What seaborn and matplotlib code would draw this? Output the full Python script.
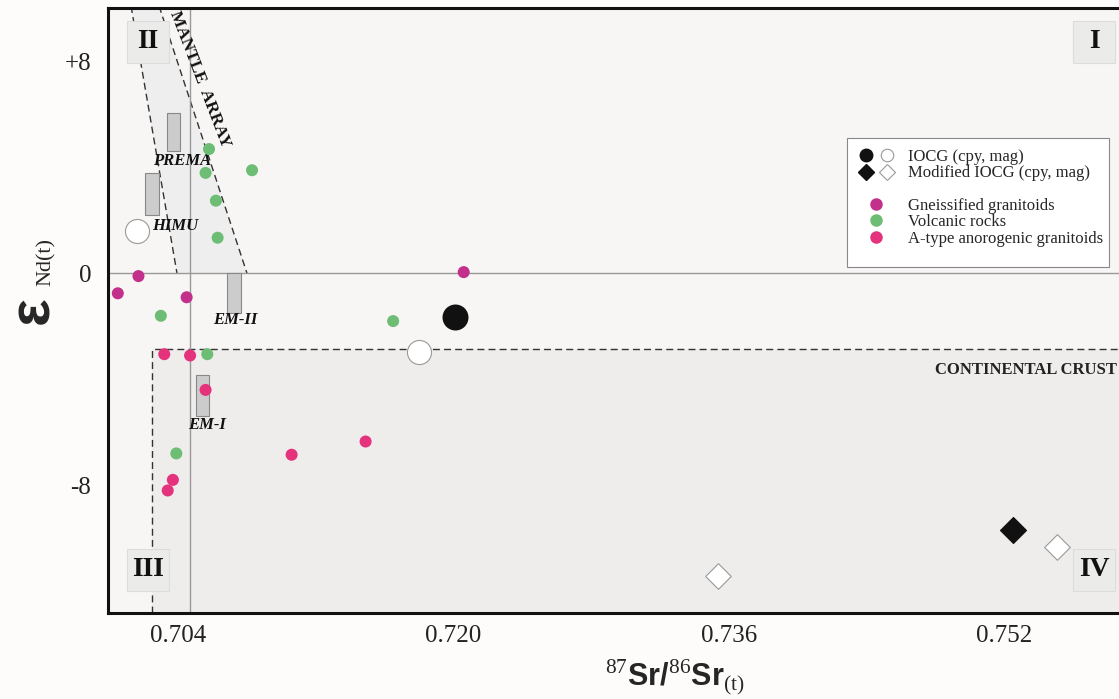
import numpy as np
import pandas as pd
import matplotlib
matplotlib.use("Agg")
import matplotlib.pyplot as plt
import seaborn as sns
from matplotlib.patches import Rectangle, Polygon
from matplotlib.lines import Line2D
from matplotlib.legend_handler import HandlerTuple

# Data

volc_sr = [0.7058, 0.7083, 0.7056, 0.7062, 0.7063, 0.7030, 0.7165, 0.7057, 0.7039]
volc_nd = [4.7, 3.9, 3.8, 2.75, 1.35, -1.6, -1.8, -3.05, -6.8]

gneiss_sr = [0.7005, 0.7017, 0.7045, 0.7206]
gneiss_nd = [-0.75, -0.1, -0.9, 0.05]

atype_sr = [0.7032, 0.7047, 0.7056, 0.7106, 0.7149, 0.7037, 0.7034]
atype_nd = [-3.05, -3.1, -4.4, -6.85, -6.35, -7.8, -8.2]

iocg_cpy_sr = [0.7201]
iocg_cpy_nd = [-1.65]
iocg_mag_sr = [0.7180, 0.7016]
iocg_mag_nd = [-2.95, 1.6]

mod_cpy_sr = [0.7525]
mod_cpy_nd = [-9.7]
mod_mag_sr = [0.7551, 0.7354]
mod_mag_nd = [-10.35, -11.45]

# mantle reservoirs: name, sr min, sr max, nd min, nd max
res_names = ["PREMA", "HIMU", "EM-II", "EM-I"]
res_sr0 = [0.70336, 0.70208, 0.70685, 0.70505]
res_sr1 = [0.70412, 0.70290, 0.70766, 0.70580]
res_nd0 = [4.62, 2.22, -1.5, -5.38]
res_nd1 = [6.05, 3.80, 0.0, -3.83]
res_lab_sr = [0.70423, 0.70383, 0.70731, 0.70569]
res_lab_nd = [4.25, 1.80, -1.77, -5.71]

# mantle array limits (sr at top, sr at nd = 0)
array_left = [(0.70127, 10.1), (0.70394, 0.0)]
array_right = [(0.70290, 10.1), (0.70801, 0.0)]

# bulk earth reference and continental crust corner
bulk_sr = 0.7047
crust_sr = 0.7025
crust_nd = -2.85

x_ticks = [0.704, 0.720, 0.736, 0.752]
x_labels = ["0.704", "0.720", "0.736", "0.752"]
x_minor = [0.712, 0.728, 0.744, 0.756]
y_ticks = [8, 0, -8]
y_labels = ["+8", "0", "-8"]
y_minor = [4, -4, -12]

quad_names = ["I", "II", "III", "IV"]
quad_sr = [0.75723, 0.70226, 0.70226, 0.75723]
quad_nd = [8.76, 8.76, -11.2, -11.2]

# Colours

c_volc = "#6dbd74"
c_gneiss = "#c2308b"
c_atype = "#e4327c"

sns.set_style("white")
plt.rcParams["font.family"] = ["Liberation Serif", "DejaVu Serif"]
plt.rcParams["mathtext.fontset"] = "custom"
plt.rcParams["mathtext.rm"] = "Liberation Serif"
plt.rcParams["mathtext.bf"] = "Liberation Sans:bold"

W, H = 1119, 699
fig = plt.figure(figsize=(11.19, 6.99), dpi=100, facecolor="#fdfcfb")
ax = fig.add_axes([108 / W, 86 / H, 1011 / W, 605 / H])
ax.set_facecolor("#f8f6f5")

xmin, xmax = 0.69993, 0.75868
ymin, ymax = -12.83, 10.03
ax.set_xlim(xmin, xmax)
ax.set_ylim(ymin, ymax)

# Continental crust field

ax.add_patch(Rectangle((crust_sr, ymin), xmax - crust_sr, crust_nd - ymin,
                       facecolor="#efedeb", edgecolor="none", zorder=0))
ax.plot([crust_sr, crust_sr, xmax], [ymin, crust_nd, crust_nd],
        color="#333333", lw=1, ls=(0, (5, 3)), zorder=1)
ax.text(0.75857, -3.65, "CONTINENTAL CRUST", ha="right", va="center",
        fontsize=12, fontweight="bold", color="#222222")

# Mantle array band

band = Polygon([array_left[0], array_right[0], array_right[1], array_left[1]],
               closed=True, facecolor="#efeeee", edgecolor="none", zorder=0)
ax.add_patch(band)
for line in [array_left, array_right]:
    ax.plot([line[0][0], line[1][0]], [line[0][1], line[1][1]],
            color="#333333", lw=1, ls=(0, (5, 3)), zorder=1)
ax.text(0.70528, 7.33, "MANTLE  ARRAY", rotation=-69, ha="center", va="center",
        fontsize=12.5, fontweight="bold", color="#111111", rotation_mode="anchor")

# Reference lines

ax.axvline(bulk_sr, color="#999999", lw=1, zorder=1)
ax.axhline(0, color="#999999", lw=1, zorder=1)

# Mantle reservoirs

for i in range(len(res_names)):
    ax.add_patch(Rectangle((res_sr0[i], res_nd0[i]), res_sr1[i] - res_sr0[i],
                           res_nd1[i] - res_nd0[i], facecolor="#cccccc",
                           edgecolor="#888888", lw=0.8, zorder=2))
    ax.text(res_lab_sr[i], res_lab_nd[i], res_names[i], ha="center", va="center",
            fontsize=12, fontweight="bold", fontstyle="italic", color="#111111",
            zorder=3)

# Quadrant labels

bw = 0.00244
bh = 1.58
for i in range(len(quad_names)):
    ax.add_patch(Rectangle((quad_sr[i] - bw / 2, quad_nd[i] - bh / 2), bw, bh,
                           facecolor="#ebebea", edgecolor="#dcdcdc", lw=0.8,
                           zorder=2))
    ax.text(quad_sr[i], quad_nd[i], quad_names[i], ha="center", va="center",
            fontsize=20, fontweight="bold", color="#111111", zorder=3)

# Sample points

pts = pd.DataFrame({
    "sr": volc_sr + gneiss_sr + atype_sr,
    "nd": volc_nd + gneiss_nd + atype_nd,
    "group": ["Volcanic rocks"] * len(volc_sr)
             + ["Gneissified granitoids"] * len(gneiss_sr)
             + ["A-type anorogenic granitoids"] * len(atype_sr),
})
pal = {"Volcanic rocks": c_volc, "Gneissified granitoids": c_gneiss,
       "A-type anorogenic granitoids": c_atype}
sns.scatterplot(data=pts, x="sr", y="nd", hue="group", palette=pal, s=75,
                edgecolor="none", legend=False, ax=ax, zorder=4)

sns.scatterplot(x=iocg_cpy_sr, y=iocg_cpy_nd, marker="o", s=300, color="#111111",
                edgecolor="#111111", ax=ax, zorder=5)
sns.scatterplot(x=iocg_mag_sr, y=iocg_mag_nd, marker="o", s=300, color="white",
                edgecolor="#999999", linewidth=0.8, ax=ax, zorder=5)
sns.scatterplot(x=mod_cpy_sr, y=mod_cpy_nd, marker="D", s=170, color="#111111",
                edgecolor="#111111", ax=ax, zorder=5)
sns.scatterplot(x=mod_mag_sr, y=mod_mag_nd, marker="D", s=170, color="white",
                edgecolor="#999999", linewidth=0.8, ax=ax, zorder=5)

# Axes style

for side in ["left", "bottom", "top"]:
    ax.spines[side].set_linewidth(2.2)
    ax.spines[side].set_color("#111111")
ax.spines["right"].set_visible(False)

ax.set_xticks(x_ticks)
ax.set_xticklabels(x_labels)
ax.set_xticks(x_minor, minor=True)
ax.set_yticks(y_ticks)
ax.set_yticklabels(y_labels)
ax.set_yticks(y_minor, minor=True)
ax.tick_params(which="major", direction="in", length=10, width=1.5,
               labelsize=18, pad=9, color="#111111", labelcolor="#222222")
ax.tick_params(which="minor", direction="in", length=5, width=1.5,
               color="#111111")
ax.tick_params(axis="y", which="major", pad=12)

ax.set_xlabel(r"$^{\mathrm{87}}\mathbf{Sr/}^{\mathrm{86}}\mathbf{Sr}_{\mathrm{(t)}}$",
              fontsize=22)
ax.xaxis.set_label_coords((675 - 108) / 1011, -0.073)
ax.set_ylabel("")

fig.text(33 / W, 1 - 310 / H, "ε", rotation=90, ha="center", va="center",
         fontsize=42, fontweight="bold", family="Liberation Sans")
fig.text(46 / W, 1 - 262 / H, "Nd(t)", rotation=90, ha="center", va="center",
         fontsize=16)

# Legend: frame plus two stacked legends (gap between IOCG rows and rocks)

ax.add_patch(Rectangle((847 / W, 1 - 267 / H), 262 / W, 129 / H,
                       transform=fig.transFigure, facecolor="white",
                       edgecolor="#888888", lw=0.8, clip_on=False, zorder=8))

h_iocg = (Line2D([], [], marker="o", ls="none", ms=9, mfc="#111111", mec="#111111"),
          Line2D([], [], marker="o", ls="none", ms=9, mfc="white", mec="#999999", mew=0.8))
h_mod = (Line2D([], [], marker="D", ls="none", ms=8, mfc="#111111", mec="#111111"),
         Line2D([], [], marker="D", ls="none", ms=8, mfc="white", mec="#999999", mew=0.8))
h_g = Line2D([], [], marker="o", ls="none", ms=9, mfc=c_gneiss, mec="none")
h_v = Line2D([], [], marker="o", ls="none", ms=9, mfc=c_volc, mec="none")
h_a = Line2D([], [], marker="o", ls="none", ms=9, mfc=c_atype, mec="none")

leg_kw = dict(loc="upper left", bbox_transform=fig.transFigure, borderaxespad=0,
              fontsize=12, frameon=False, handlelength=2.2, labelspacing=0.02,
              handletextpad=0.8, borderpad=0)

leg1 = ax.legend([h_iocg, h_mod], ["IOCG (cpy, mag)", "Modified IOCG (cpy, mag)"],
                 handler_map={tuple: HandlerTuple(ndivide=None, pad=0.3)},
                 bbox_to_anchor=(858 / W, 1 - 149 / H), **leg_kw)
leg1.set_zorder(9)
ax.add_artist(leg1)
leg2 = ax.legend([h_g, h_v, h_a],
                 ["Gneissified granitoids", "Volcanic rocks",
                  "A-type anorogenic granitoids"],
                 bbox_to_anchor=(858 / W, 1 - 198 / H), **leg_kw)
leg2.set_zorder(9)

plt.savefig("out.png", dpi=100, facecolor=fig.get_facecolor())
